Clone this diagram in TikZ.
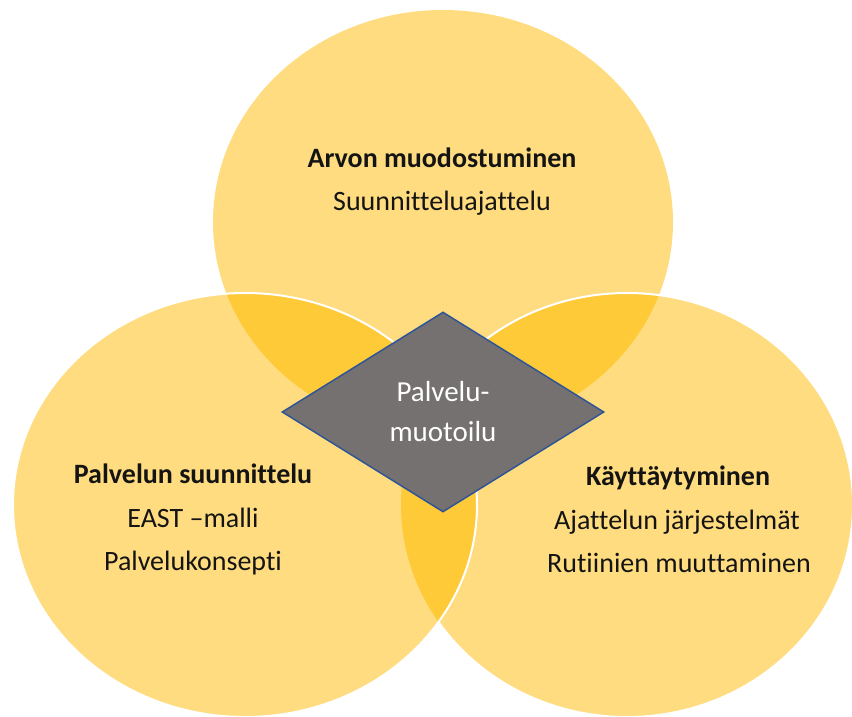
\documentclass[tikz,border=0pt]{standalone}
\usepackage{fontspec}
\setmainfont{Carlito}[Ligatures={NoCommon,NoContextual}]
\usetikzlibrary{shapes.geometric}
\definecolor{petal}{HTML}{FFDC7F}
\definecolor{lens}{HTML}{FFCA38}
\definecolor{core}{HTML}{767171}
\definecolor{coreline}{HTML}{2F5597}
\definecolor{ink}{HTML}{141414}
\begin{document}
\begin{tikzpicture}[x=1pt,y=-1pt,
  lbl/.style={anchor=base, inner sep=0pt, text=ink, font=\fontsize{28}{34}\selectfont},
  lblhead/.style={lbl, font=\fontsize{28}{34}\selectfont\bfseries},
  ring/.style={draw=white, line width=2pt},
  centerpiece/.style={shape=diamond, fill=core, draw=coreline, line width=1.5pt,
    minimum width=322pt, minimum height=200pt, inner sep=0pt,
    text=white, align=center, font=\fontsize{29}{40}\selectfont}]
\useasboundingbox (0,0) rectangle (852,717);
% the three overlapping fields
\def\topE{(443,222) ellipse [x radius=230pt, y radius=212pt]}
\def\leftE{(245,505) ellipse [x radius=232pt, y radius=212pt]}
\def\rightE{(627,505) ellipse [x radius=226pt, y radius=212pt]}
\fill[petal] \topE;
\fill[petal] \rightE;
\begin{scope}
  \clip \rightE;
  \fill[lens] \topE;
\end{scope}
\draw[ring] \rightE;
\fill[petal] \leftE;
\begin{scope}
  \clip \leftE;
  \fill[lens] \topE;
  \fill[lens] \rightE;
\end{scope}
\draw[ring] \leftE;
% labels of the fields
\node[lblhead] (arvo) at (442,167) {Arvon muodostuminen};
\node[lbl] (suun) at (442,210) {Suunnitteluajattelu};
\node[lblhead] (palsuun) at (193,483) {Palvelun suunnittelu};
\node[lbl] (east) at (193,527) {EAST –malli};
\node[lbl] (konsepti) at (193,570) {Palvelukonsepti};
\node[lblhead] (kaytt) at (678,485) {Käyttäytyminen};
\node[lbl] (ajattelu) at (677,529) {Ajattelun järjestelmät};
\node[lbl] (rutiini) at (679,572) {Rutiinien muuttaminen};
% central diamond
\node[centerpiece] (core) at (443,412) {Palvelu-\\muotoilu};
\end{tikzpicture}
\end{document}
